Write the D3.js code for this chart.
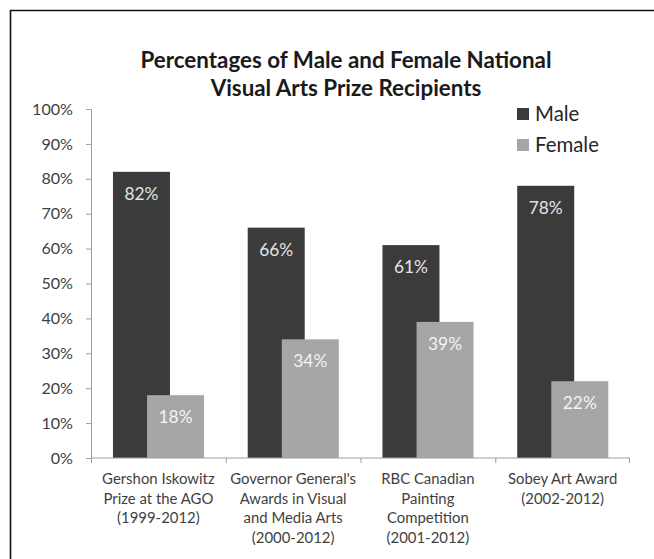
<!DOCTYPE html>
<html>
<head>
<meta charset="utf-8">
<script src="https://cdn.jsdelivr.net/npm/d3@7"></script>
<style>
  body { margin: 0; background: #fff; }
  svg { display: block; font-family: Lato, "Open Sans", sans-serif; }
</style>
</head>
<body>
<svg id="chart"></svg>
<script>
const categories = [
  ['Gershon Iskowitz', 'Prize at the AGO', '(1999-2012)'],
  ["Governor General's", 'Awards in Visual', 'and Media Arts', '(2000-2012)'],
  ['RBC Canadian', 'Painting', 'Competition', '(2001-2012)'],
  ['Sobey Art Award', '(2002-2012)']
];
const series = ['Male', 'Female'];
const maleValues = [82, 66, 61, 78];
const femaleValues = [18, 34, 39, 22];
const yTicks = [0, 10, 20, 30, 40, 50, 60, 70, 80, 90, 100];
const titleLines = ['Percentages of Male and Female National', 'Visual Arts Prize Recipients'];
const colors = { Male: '#3b3b3b', Female: '#a6a6a6' };

const width = 654;
const height = 559;
const plot = { left: 91, right: 630, top: 109, bottom: 458 };

const svg = d3.select('#chart')
  .attr('width', width)
  .attr('height', height);

// pick a font size so that sample text gets the width seen in the original
function fitSize(text, target, weight) {
  const t = svg.append('text')
    .attr('font-size', '20px')
    .attr('font-weight', weight || 'normal')
    .text(text);
  const w = t.node().getComputedTextLength();
  t.remove();
  return 20 * target / w;
}

const titleSize = fitSize(titleLines[0], 411, 'bold');
const tickSize = fitSize('100%', 41);
const catSize = fitSize("Governor General's", 126);
const barLabelSize = fitSize('82%', 34);
const legendSize = fitSize('Female', 64);

// frame (only top and left edges visible)
svg.append('path')
  .attr('d', `M10.5,${height} V10.5 H${width}`)
  .attr('fill', 'none')
  .attr('stroke', '#111')
  .attr('stroke-width', 1.6);

// title
svg.append('text')
  .attr('text-anchor', 'middle')
  .attr('font-weight', 'bold')
  .attr('font-size', titleSize + 'px')
  .attr('fill', '#1a1a1a')
  .selectAll('tspan')
  .data(titleLines)
  .enter()
  .append('tspan')
  .attr('x', 346)
  .attr('y', (d, i) => 60 + i * 28)
  .attr('dy', '0.35em')
  .text(d => d);

const catIdx = categories.map((d, i) => i);

const x0 = d3.scaleBand()
  .domain(catIdx)
  .range([plot.left, plot.right])
  .padding(0);

const bw = x0.bandwidth();
const barW = bw * 0.423;

// series offset inside each category (bars overlap)
const x1 = d3.scalePoint()
  .domain(series)
  .range([bw * 0.163, bw * 0.416]);

const y = d3.scaleLinear()
  .domain([0, 100])
  .range([plot.bottom, plot.top]);

// Y axis
const yAxis = svg.append('g')
  .attr('transform', `translate(${plot.left},0)`)
  .call(d3.axisLeft(y).tickValues(yTicks).tickSize(5).tickPadding(13).tickFormat(d => d + '%'));
yAxis.select('.domain').attr('stroke', '#9e9e9e');
yAxis.selectAll('.tick line').attr('stroke', '#9e9e9e');
yAxis.selectAll('.tick text')
  .attr('font-size', tickSize + 'px')
  .attr('fill', '#3f3f3f')
  .attr('font-family', 'Lato, sans-serif');

// bars
const rows = catIdx.map(i => ({ i, values: [
  { key: 'Male', value: maleValues[i] },
  { key: 'Female', value: femaleValues[i] }
] }));

const groups = svg.selectAll('.group')
  .data(rows)
  .enter()
  .append('g')
  .attr('class', 'group')
  .attr('transform', d => `translate(${x0(d.i)},0)`);

groups.selectAll('rect')
  .data(d => d.values)
  .enter()
  .append('rect')
  .attr('x', d => x1(d.key))
  .attr('y', d => y(d.value))
  .attr('width', barW)
  .attr('height', d => y(0) - y(d.value))
  .attr('fill', d => colors[d.key]);

groups.selectAll('.bar-label')
  .data(d => d.values)
  .enter()
  .append('text')
  .attr('class', 'bar-label')
  .attr('x', d => x1(d.key) + barW / 2)
  .attr('y', d => y(d.value) + 22)
  .attr('dy', '0.35em')
  .attr('text-anchor', 'middle')
  .attr('font-size', barLabelSize + 'px')
  .attr('fill', d => d.key === 'Male' ? '#e4e4e4' : '#f4f4f4')
  .text(d => d.value + '%');

// X axis
const xAxis = svg.append('g')
  .attr('transform', `translate(0,${plot.bottom})`);
xAxis.append('line')
  .attr('x1', plot.left)
  .attr('x2', plot.right)
  .attr('stroke', '#9e9e9e');
xAxis.selectAll('.xtick')
  .data(catIdx.concat([categories.length]))
  .enter()
  .append('line')
  .attr('class', 'xtick')
  .attr('x1', d => d < categories.length ? x0(d) + 0.5 : plot.right - 0.5)
  .attr('x2', d => d < categories.length ? x0(d) + 0.5 : plot.right - 0.5)
  .attr('y1', 0)
  .attr('y2', 5)
  .attr('stroke', '#9e9e9e');

xAxis.selectAll('.xlabel')
  .data(rows)
  .enter()
  .append('text')
  .attr('class', 'xlabel')
  .attr('text-anchor', 'middle')
  .attr('font-size', catSize + 'px')
  .attr('fill', '#3f3f3f')
  .selectAll('tspan')
  .data(d => categories[d.i].map(line => ({ line, i: d.i })))
  .enter()
  .append('tspan')
  .attr('x', d => x0(d.i) + bw / 2)
  .attr('y', (d, j) => 21 + j * 19.5)
  .attr('dy', '0.35em')
  .text(d => d.line);

// legend
const legend = svg.append('g')
  .attr('transform', 'translate(517,108)');
const items = legend.selectAll('g')
  .data(series)
  .enter()
  .append('g')
  .attr('transform', (d, i) => `translate(0,${i * 31})`);
items.append('rect')
  .attr('width', 12)
  .attr('height', 12)
  .attr('fill', d => colors[d]);
items.append('text')
  .attr('x', 18)
  .attr('y', 6)
  .attr('dy', '0.36em')
  .attr('font-size', legendSize + 'px')
  .attr('fill', '#262626')
  .text(d => d);
</script>
</body>
</html>
